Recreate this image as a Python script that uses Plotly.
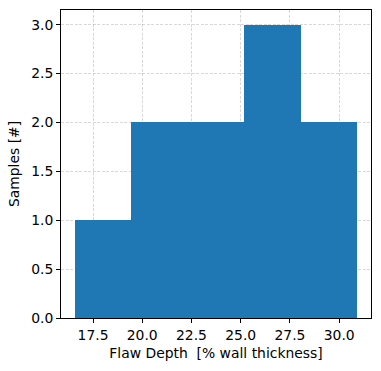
import plotly.graph_objects as go

bin_edges = [16.59, 19.45, 22.31, 25.17, 28.04, 30.90]
counts = [1, 2, 2, 3, 2]
x_ticks = [17.5, 20.0, 22.5, 25.0, 27.5, 30.0]
y_ticks = [0.0, 0.5, 1.0, 1.5, 2.0, 2.5, 3.0]

centers = [(a + b) / 2 for a, b in zip(bin_edges[:-1], bin_edges[1:])]
widths = [b - a for a, b in zip(bin_edges[:-1], bin_edges[1:])]

fig = go.Figure(go.Bar(x=centers, y=counts, width=widths,
                       marker=dict(color="#1f77b4", line=dict(width=0))))

span = bin_edges[-1] - bin_edges[0]
font = dict(family="DejaVu Sans", size=13.9, color="black")
axis_common = dict(showline=True, linecolor="black", linewidth=1, mirror=True,
                   ticks="outside", ticklen=4, tickcolor="black", tickwidth=1,
                   showgrid=True, gridcolor="rgba(128,128,128,0.3)", griddash="3px,1.5px",
                   gridwidth=1, zeroline=False, tickfont=font, layer="above traces")

fig.update_layout(
    width=381, height=371,
    margin=dict(l=61, r=9.5, t=10, b=53),
    paper_bgcolor="white", plot_bgcolor="white",
    bargap=0, showlegend=False, font=font,
    xaxis=dict(range=[bin_edges[0] - 0.05 * span, bin_edges[-1] + 0.05 * span],
               tickvals=x_ticks, ticktext=[f"{v:.1f}" for v in x_ticks],
               title=dict(text="Flaw Depth  [% wall thickness]", font=font, standoff=6),
               **axis_common),
    yaxis=dict(range=[0, 3.15], tickvals=y_ticks, ticktext=[f"{v:.1f}" for v in y_ticks],
               title=dict(text="Samples [#]", font=font, standoff=8),
               **axis_common),
)

fig.write_html("out.html")
